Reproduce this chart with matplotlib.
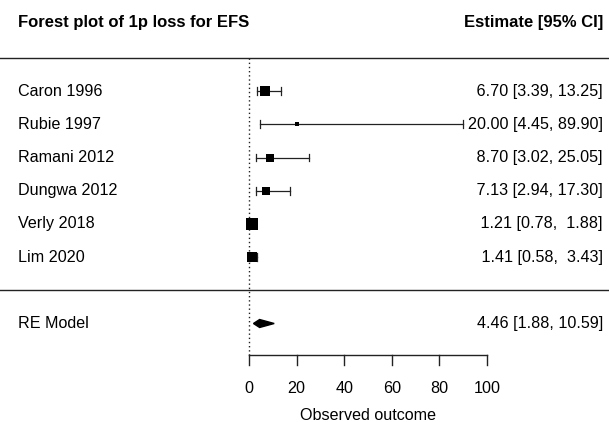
import numpy as np
import matplotlib
matplotlib.use('Agg')
import matplotlib.pyplot as plt
from matplotlib.patches import Polygon

plt.rcParams['font.family'] = ['Liberation Sans', 'DejaVu Sans']

# ── Data ──────────────────────────────────────────────────────────────────────
studies = ['Caron 1996', 'Rubie 1997', 'Ramani 2012', 'Dungwa 2012', 'Verly 2018', 'Lim 2020']
est     = [6.70, 20.00, 8.70, 7.13, 1.21, 1.41]
ci_lo   = [3.39, 4.45, 3.02, 2.94, 0.78, 0.58]
ci_hi   = [13.25, 89.90, 25.05, 17.30, 1.88, 3.43]
msize   = [7.3, 2.9, 5.2, 5.9, 8.2, 6.8]   # square side (pt), from study weights

re_est, re_lo, re_hi = 4.46, 1.88, 10.59
xticks = [0, 20, 40, 60, 80, 100]

k = len(studies)
rows = np.arange(k, 0, -1)

fig = plt.figure(figsize=(6.09, 4.22), dpi=100)
ax = fig.add_axes([0, 0, 1, 1])

# pixel mapping: x 0 -> 249px, 100 -> 487px ; row r -> 290.3 - 33.2 r px
ppu = 2.38
ax.set_xlim(-249 / ppu, (609 - 249) / ppu)
ax.set_ylim((290.3 - 422) / 33.2, 290.3 / 33.2)

fs = 11.6
lc = '#222222'
x_lab = (18 - 249) / ppu
x_est = (603 - 249) / ppu

# horizontal separators and reference line
ax.axhline(k + 1, color=lc, lw=1)
ax.axhline(0, color=lc, lw=1)
ax.plot([0, 0], [k + 1, -1.95], color=lc, lw=1, ls=(0, (1, 2)))

# study rows
for r, name, e, lo, hi, s in zip(rows, studies, est, ci_lo, ci_hi, msize):
    ax.plot([lo, hi], [r, r], color=lc, lw=0.9)
    ax.plot([lo, lo], [r - 0.12, r + 0.12], color=lc, lw=0.9)
    ax.plot([hi, hi], [r - 0.12, r + 0.12], color=lc, lw=0.9)
    ax.plot(e, r, marker='s', ms=s, color='black', mec='black', mew=0)
    ax.text(x_lab, r, name, ha='left', va='center', fontsize=fs)
    ax.text(x_est, r, f'{e:5.2f} [{lo:.2f}, {hi:5.2f}]', ha='right', va='center', fontsize=fs)

# RE model diamond
ax.add_patch(Polygon([[re_lo, -1], [re_est, -1 + 0.12], [re_hi, -1], [re_est, -1 - 0.12]],
                     closed=True, color='black'))
ax.text(x_lab, -1, 'RE Model', ha='left', va='center', fontsize=fs)
ax.text(x_est, -1, f'{re_est:.2f} [{re_lo:.2f}, {re_hi:.2f}]', ha='right', va='center', fontsize=fs)

# headers
ax.text(x_lab, 8.08, 'Forest plot of 1p loss for EFS', ha='left', va='center',
        fontsize=fs + 0.4, fontweight='bold')
ax.text(x_est, 8.08, 'Estimate [95% CI]', ha='right', va='center',
        fontsize=fs + 0.4, fontweight='bold')

# x axis drawn at row -2
y_ax = -1.95
ax.plot([xticks[0], xticks[-1]], [y_ax, y_ax], color=lc, lw=1)
for t in xticks:
    ax.plot([t, t], [y_ax, y_ax - 0.3], color=lc, lw=1)
    ax.text(t, -2.97, str(t), ha='center', va='center', fontsize=fs)
ax.text(50, -3.76, 'Observed outcome', ha='center', va='center', fontsize=fs)

ax.axis('off')
fig.savefig('out.png', dpi=100)
